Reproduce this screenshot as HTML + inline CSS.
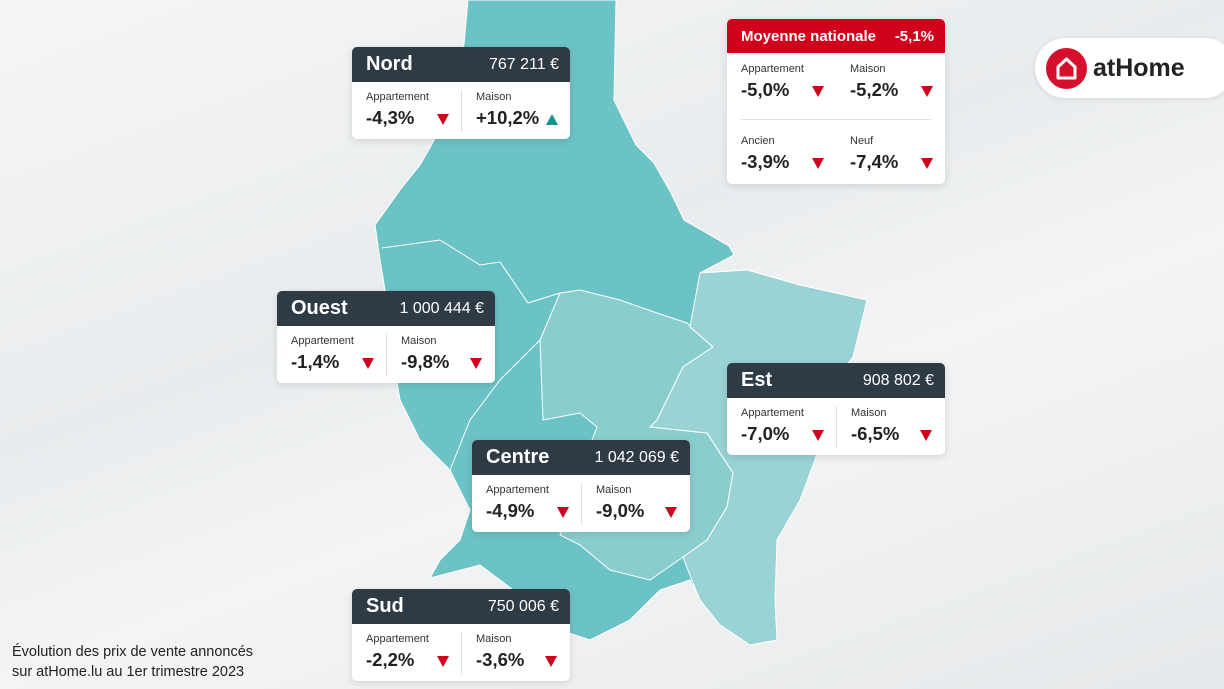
<!DOCTYPE html>
<html><head><meta charset="utf-8"><style>
*{margin:0;padding:0;box-sizing:border-box}
body{width:1224px;height:689px;overflow:hidden;position:relative;font-family:"Liberation Sans",sans-serif;background:linear-gradient(160deg,#f4f5f6 0%,#e9ecee 40%,#f3f4f5 60%,#e6e9eb 100%)}
svg.map{position:absolute;left:0;top:0}
.card{position:absolute;width:218px;height:92px;background:#fff;border-radius:5px;box-shadow:0 2px 8px rgba(0,0,0,.12);overflow:hidden}
.hd{height:35px;background:#2e3a44;color:#fff;position:relative}
.hd .t{position:absolute;left:14px;top:6px;font-size:20px;font-weight:bold}
.hd .p{position:absolute;right:11px;top:9px;font-size:16px}
.c{position:absolute;top:35px;width:109px;height:57px}
.c .l{position:absolute;left:14px;top:9px;font-size:11px;color:#333}
.c .v{position:absolute;left:14px;top:25px;font-size:18.5px;font-weight:bold;color:#222}
.c .a{position:absolute;left:85px;top:32px;width:0;height:0;border-left:6px solid transparent;border-right:6px solid transparent;border-top:11px solid #d0021b}
.c .u{position:absolute;left:84px;top:32px;width:0;height:0;border-left:6px solid transparent;border-right:6px solid transparent;border-bottom:11px solid #13958f}
.c2{left:109px;border-left:1.5px solid #dbe2e5;top:43px;height:42px}
.c2 .l{top:1px}.c2 .v{top:17px}.c2 .a{left:83px;top:24px}.c2 .u{top:24px}
</style></head><body>
<svg class="map" width="1224" height="689">
<polygon fill="#6cc3c5" stroke="#fff" stroke-width="1" points="468,0 616,0 614,100 636,145 654,163 671,193 684,220 729,246 734,255 700,273 747,270 800,285 867,300 853,357 835,380 815,460 800,500 777,540 775,600 777,640 750,645 720,625 700,600 690,580 660,590 630,620 590,640 560,630 520,595 480,565 430,578 440,560 460,540 470,510 450,470 420,440 400,400 395,370 380,330 385,290 380,260 375,225 400,190 420,165 440,130 455,90 464,44"/>
<polygon fill="#8acdcf" stroke="#fff" stroke-width="1" points="560,293 580,290 620,300 657,313 687,323 713,347 683,367 657,420 650,427 707,433 733,473 727,507 707,540 683,557 650,580 610,570 580,545 560,535 587,453 597,427 580,413 543,420 540,340"/>
<polygon fill="#99d3d5" stroke="#fff" stroke-width="1" points="700,273 747,270 800,285 867,300 853,357 835,380 815,460 800,500 777,540 775,600 777,640 750,645 720,625 700,600 697,593 683,557 707,540 727,507 733,473 707,433 650,427 657,420 683,367 713,347 690,327"/>
<polyline fill="none" stroke="#fff" stroke-width="1" points="382,248 440,240 480,265 500,262 528,303 560,293"/>
<polyline fill="none" stroke="#fff" stroke-width="1" points="540,340 500,380 470,420 450,470"/>
</svg>

<div style="position:absolute;left:1035px;top:38px;width:200px;height:60px;background:#fff;border-radius:30px;box-shadow:0 1px 6px rgba(0,0,0,.1)"></div>
<div style="position:absolute;left:1046px;top:48px;width:41px;height:41px;border-radius:50%;background:#d6102c"></div>
<svg style="position:absolute;left:1046px;top:48px" width="41" height="41"><path d="M12 30 V19 L20.5 11 L29 19 V30 Z" fill="none" stroke="#fff" stroke-width="3" stroke-linejoin="round"/></svg>
<div style="position:absolute;left:1093px;top:54px;font-size:25px;font-weight:bold;color:#222">atHome</div>

<div class="card" style="left:352px;top:47px"><div class="hd"><span class="t">Nord</span><span class="p">767 211 €</span></div>
<div class="c"><span class="l">Appartement</span><span class="v">-4,3%</span><span class="a"></span></div>
<div class="c c2"><span class="l">Maison</span><span class="v">+10,2%</span><span class="u"></span></div></div>

<div class="card" style="left:727px;top:19px;height:165px"><div class="hd" style="background:#d0021b;height:34px"><span class="t" style="font-size:15px;top:9px">Moyenne nationale</span><span class="p" style="font-weight:bold;font-size:15px">-5,1%</span></div>
<div class="c"><span class="l">Appartement</span><span class="v">-5,0%</span><span class="a"></span></div>
<div class="c" style="left:109px"><span class="l">Maison</span><span class="v">-5,2%</span><span class="a"></span></div>
<div style="position:absolute;left:14px;right:14px;top:100px;border-top:1px solid #dde3e6"></div>
<div class="c" style="top:107px"><span class="l">Ancien</span><span class="v">-3,9%</span><span class="a"></span></div>
<div class="c" style="top:107px;left:109px"><span class="l">Neuf</span><span class="v">-7,4%</span><span class="a"></span></div></div>

<div class="card" style="left:277px;top:291px"><div class="hd"><span class="t">Ouest</span><span class="p">1 000 444 €</span></div>
<div class="c"><span class="l">Appartement</span><span class="v">-1,4%</span><span class="a"></span></div>
<div class="c c2"><span class="l">Maison</span><span class="v">-9,8%</span><span class="a"></span></div></div>

<div class="card" style="left:727px;top:363px"><div class="hd"><span class="t">Est</span><span class="p">908 802 €</span></div>
<div class="c"><span class="l">Appartement</span><span class="v">-7,0%</span><span class="a"></span></div>
<div class="c c2"><span class="l">Maison</span><span class="v">-6,5%</span><span class="a"></span></div></div>

<div class="card" style="left:472px;top:440px"><div class="hd"><span class="t">Centre</span><span class="p">1 042 069 €</span></div>
<div class="c"><span class="l">Appartement</span><span class="v">-4,9%</span><span class="a"></span></div>
<div class="c c2"><span class="l">Maison</span><span class="v">-9,0%</span><span class="a"></span></div></div>

<div class="card" style="left:352px;top:589px"><div class="hd"><span class="t">Sud</span><span class="p">750 006 €</span></div>
<div class="c"><span class="l">Appartement</span><span class="v">-2,2%</span><span class="a"></span></div>
<div class="c c2"><span class="l">Maison</span><span class="v">-3,6%</span><span class="a"></span></div></div>

<div style="position:absolute;left:12px;top:642px;font-size:14.5px;line-height:20px;color:#222">Évolution des prix de vente annoncés<br>sur atHome.lu au 1er trimestre 2023</div>
</body></html>
